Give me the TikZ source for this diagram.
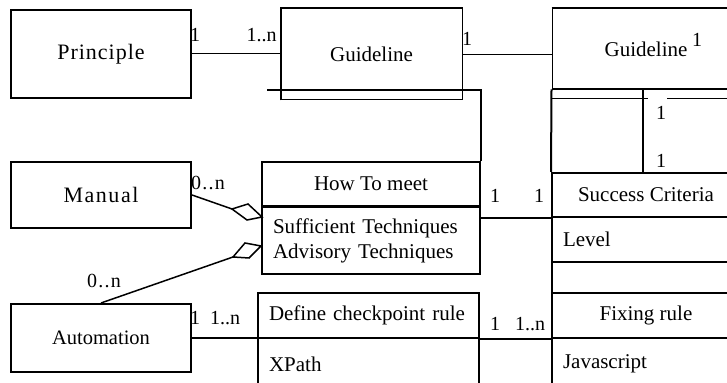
\documentclass[tikz,border=0pt]{standalone}
\usepackage{fontspec}
\setmainfont{Liberation Serif}
\begin{document}
\begin{tikzpicture}[x=0.5pt,y=-0.5pt,
  thickln/.style={line width=1pt},
  thinln/.style={line width=0.5pt},
  midln/.style={line width=0.75pt},
  box/.style={draw, line width=1pt, inner sep=0pt, font=\fontsize{10.5}{12.5}\selectfont},
  leftbox/.style={box, align=left, inner xsep=5.5pt},
  lbl/.style={inner sep=0pt, font=\fontsize{10}{12}\selectfont},
]
\useasboundingbox (0,0) rectangle (727,383);

% left column
\node[box, minimum width=90pt, minimum height=44pt,
  font=\fontsize{11}{13}\selectfont\addfontfeature{LetterSpace=4.5}] (principle) at (101,54) {Principle};
\node[box, minimum width=90pt, minimum height=33pt,
  font=\fontsize{11}{13}\selectfont\addfontfeature{LetterSpace=7}] (manual) at (101,195) {Manual};
\node[box, minimum width=90pt, minimum height=34pt,
  font=\fontsize{10.25}{12}\selectfont] (auto) at (101,338) {Automation};

% middle column
\node[box, thinln, minimum width=90.5pt, minimum height=45.5pt] (guide1) at (371.5,54.5) {Guideline};
\draw[thickln] (guide1.south west) -- (guide1.north west) -- (guide1.north east);
\node[box, minimum width=109pt, minimum height=22pt] (howto) at (371,184) {How To meet};
\node[leftbox, minimum width=109pt, minimum height=33.5pt, text width=98pt, inner xsep=5pt] (tech) at (371,241)
  {Sufficient Techniques\\Advisory Techniques};
\node[leftbox, minimum width=110.5pt, minimum height=22.5pt, text width=99.5pt] (define) at (368.5,315.5) {Define checkpoint rule};
\node[leftbox, minimum width=110.5pt, minimum height=26pt, text width=99.5pt] (xpath) at (368.5,364) {XPath};

% right column
\node[box, thinln, minimum width=94pt, minimum height=40pt] (guide2) at (646,49) {Guideline\hspace{8pt}};
\draw[thickln] (guide2.south west) -- (guide2.south east);
\draw[thickln] (guide2.north west) -- (guide2.north east);
\node[box, minimum width=94pt, minimum height=22pt] (sc) at (646,195) {Success Criteria\hspace{12pt}};
\node[leftbox, minimum width=94pt, minimum height=22.5pt, text width=83pt] (level) at (646,239.5) {Level};
\node[box, minimum width=94pt, minimum height=15.5pt] (empty) at (646,277.5) {};
\node[box, minimum width=94pt, minimum height=22.5pt] (fix) at (646,315.5) {Fixing rule\hspace{24pt}};
\node[leftbox, minimum width=94pt, minimum height=26pt, text width=83pt] (js) at (646,364) {Javascript};
\draw[thickln] (guide2.south west) -- (sc.north west);

% connectors
\draw[thinln] (principle.east) -- (principle.east -| guide1.west);
\draw[thinln] (guide1.east) -- (guide1.east -| guide2.west);
\coordinate (gbar) at (267,90);
\draw[thickln] (gbar) -| (howto.north east);
\draw[thickln] (sc.south west -| tech.east) -- (sc.south west);

\coordinate (selftop) at (643,89);
\coordinate (selfbot) at (643,173);
\draw[thickln] (selftop) -- (selfbot);
\coordinate (t1a) at (552,99);
\coordinate (t1b) at (648,99);
\coordinate (t2a) at (667,99);
\coordinate (t2b) at (727,99);
\draw[thinln] (t1a) -- (t1b);
\draw[thinln] (t2a) -- (t2b);

% aggregation diamonds
\coordinate (d1t) at (262,217);
\coordinate (d1b) at (247,220);
\coordinate (d1l) at (232,209);
\coordinate (d1u) at (248,204);
\draw[midln, fill=white] (d1t) -- (d1b) -- (d1l) -- (d1u) -- cycle;
\draw[midln] (manual.east) -- (d1l);

\coordinate (d2t) at (261,246);
\coordinate (d2b) at (249,258);
\coordinate (d2l) at (233,257);
\coordinate (d2u) at (245,243);
\draw[midln, fill=white] (d2t) -- (d2b) -- (d2l) -- (d2u) -- cycle;
\draw[midln] (auto.north) -- (d2l);

\draw[thickln] (auto.east) -- (auto.east -| define.west);
\draw[thickln] (define.south east) -- (fix.south west);

% multiplicities
\node[lbl] (m1) at (195,35) {1};
\node[lbl] (m2) at (261.5,35) {1..n};
\node[lbl] (m3) at (467,39) {1};
\node[lbl] (m4) at (697,40) {1};
\node[lbl] (m5) at (661,113) {1};
\node[lbl] (m6) at (661,161) {1};
\node[lbl, font=\fontsize{10}{12}\selectfont\addfontfeature{LetterSpace=6}] (m7) at (208,183) {0..n};
\node[lbl] (m8) at (495,196) {1};
\node[lbl] (m9) at (539,196) {1};
\node[lbl, font=\fontsize{10}{12}\selectfont\addfontfeature{LetterSpace=6}] (m10) at (104,281) {0..n};
\node[lbl] (m11) at (195,318) {1};
\node[lbl] (m12) at (225,318) {1..n};
\node[lbl] (m13) at (495,324) {1};
\node[lbl] (m14) at (530,324) {1..n};
\end{tikzpicture}
\end{document}
